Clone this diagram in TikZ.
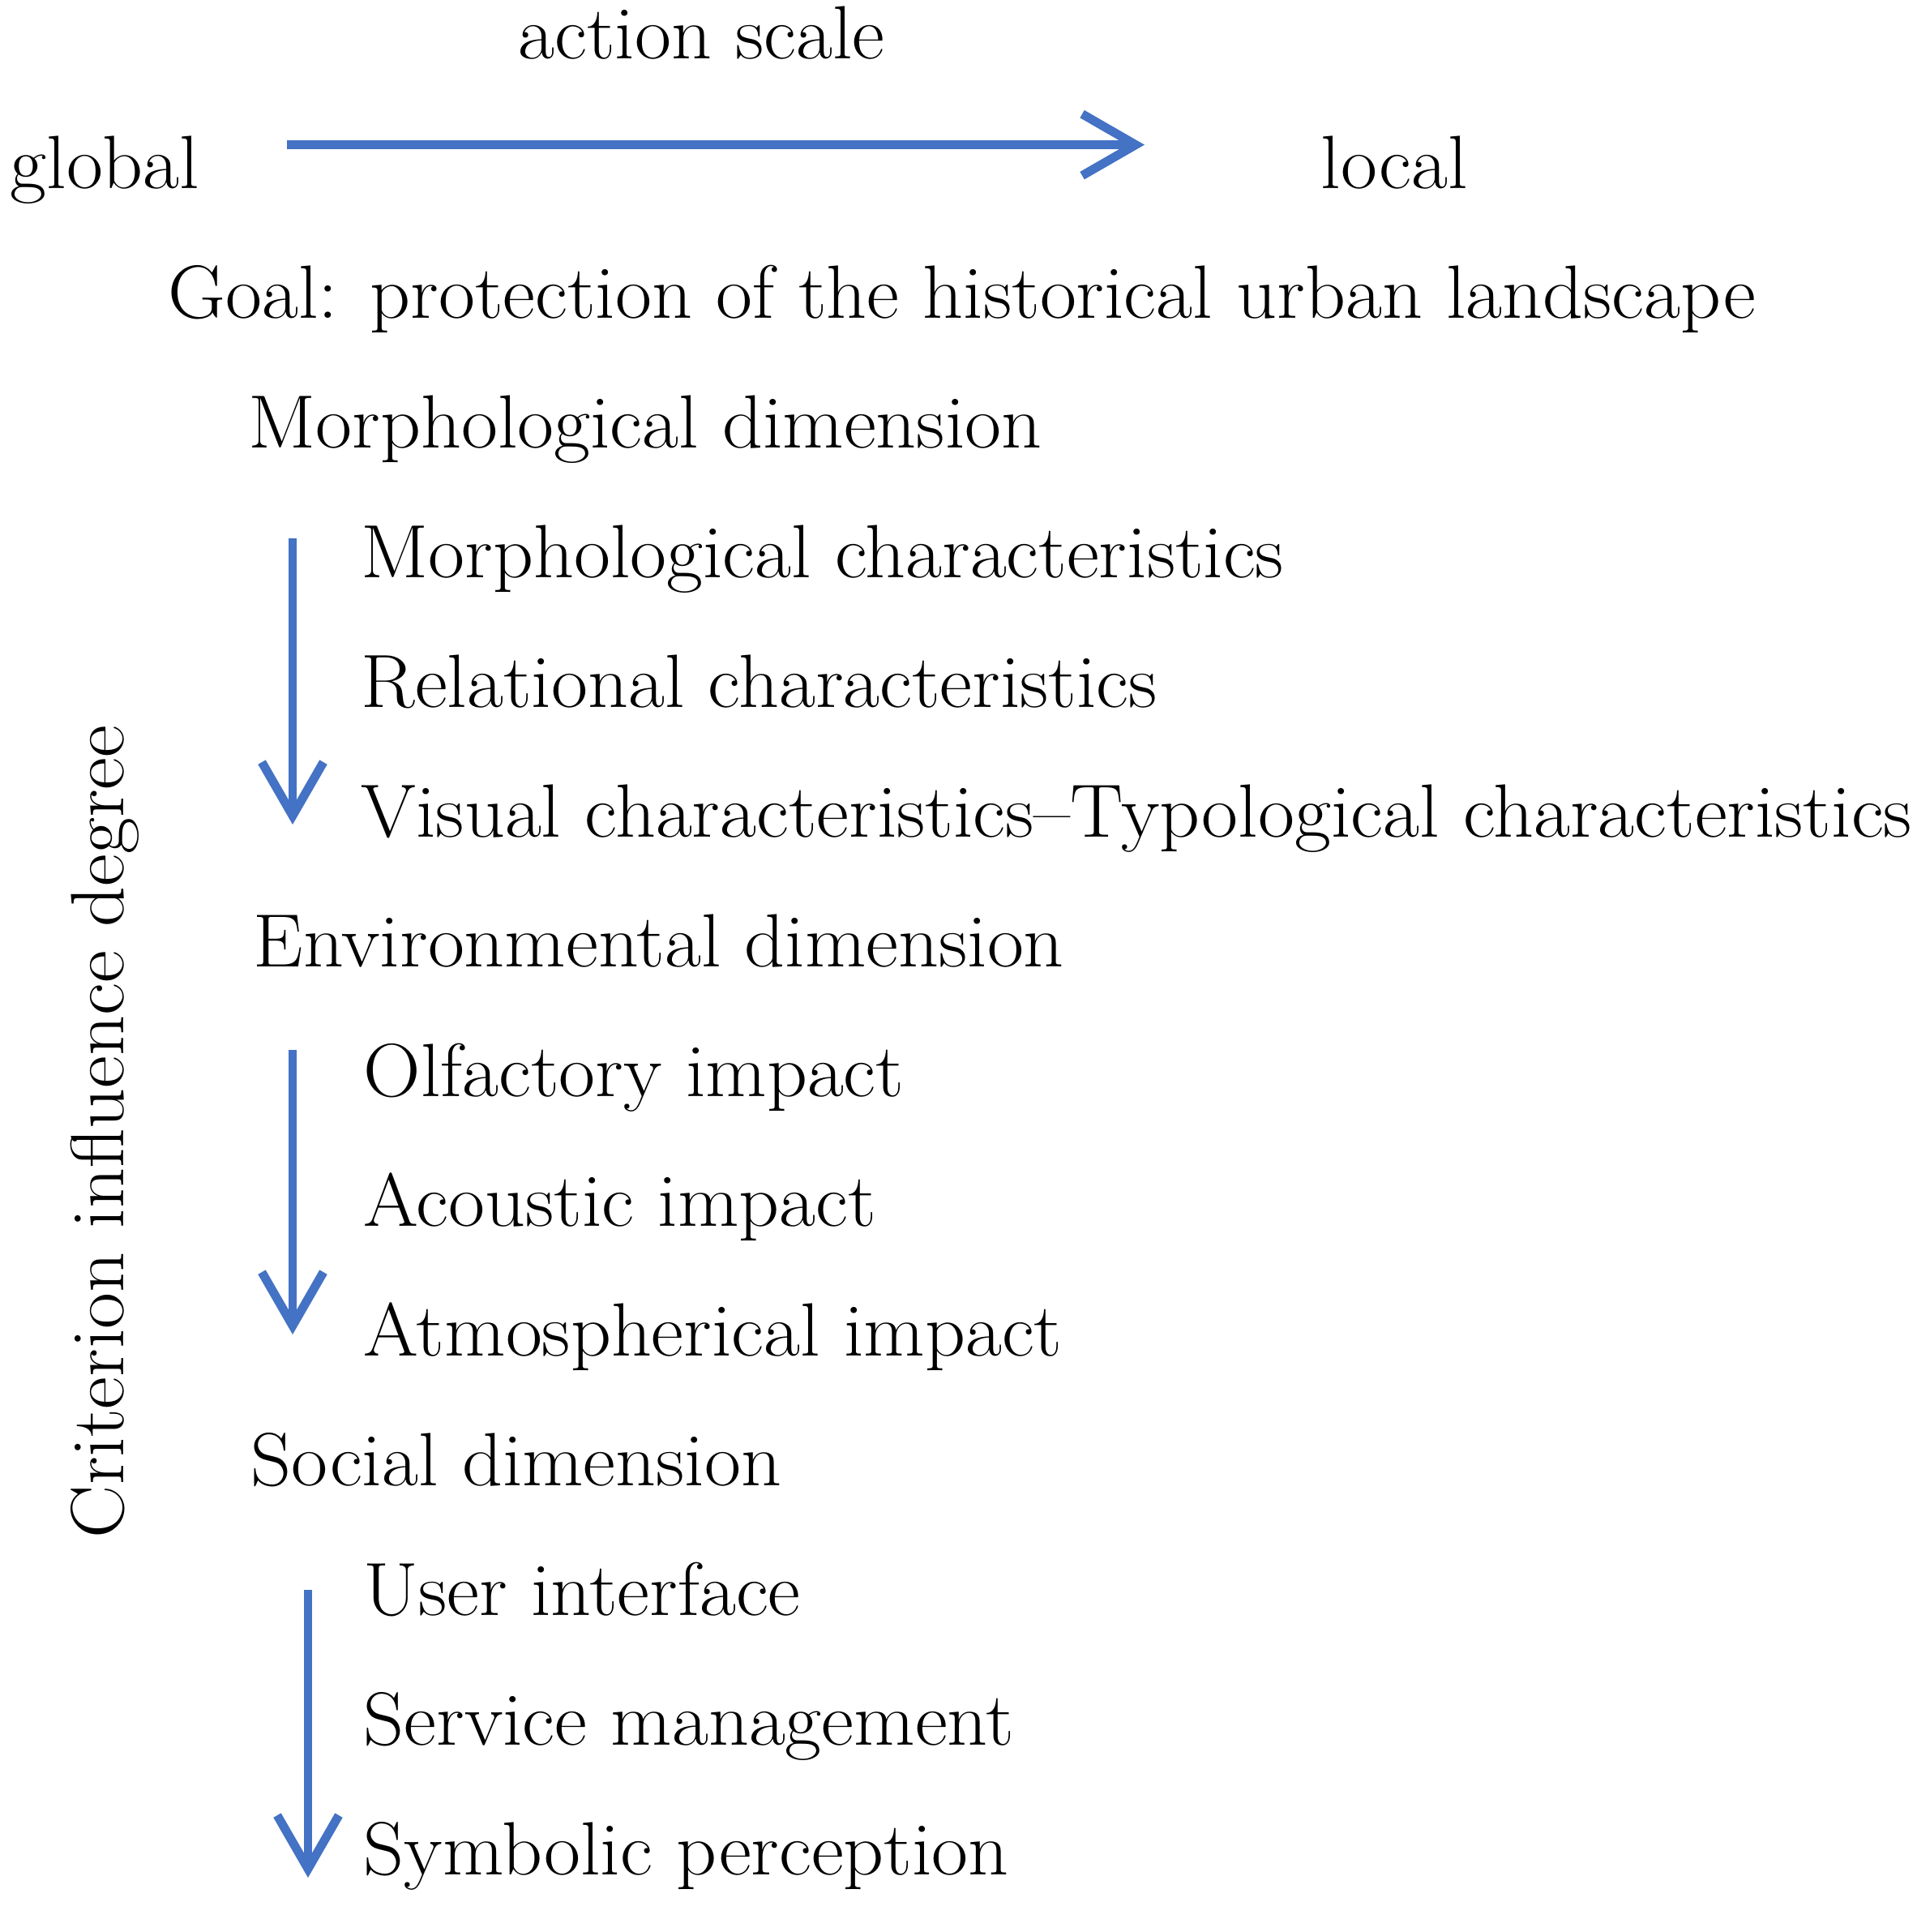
\documentclass[tikz,border=0pt]{standalone}
\usepackage{fontspec}
\setmainfont{Latin Modern Roman}[FakeStretch = 1.05]
\usetikzlibrary{arrows.meta}
\definecolor{arrowblue}{RGB}{68,114,196}

\begin{document}
\begin{tikzpicture}
\tikzstyle{TextStyle}=[anchor = base west,
                       inner sep = 0pt,
                       font = \fontsize{26.5}{31}\selectfont]
\tikzstyle{ArrowStyle}=[draw = arrowblue,
                        line width = 3.1pt,
                        -{Straight Barb[length = 0.66cm, width = 0.76cm]}]
\useasboundingbox (0,0) rectangle (23.65,-23.83);
\node[TextStyle] (t0) at (6.39,-0.72) {action scale};
\node[TextStyle] (t1) at (0.12,-2.32) {global};
\node[TextStyle] (t2) at (16.29,-2.32) {local};
\node[TextStyle] (t3) at (2.07,-3.92) {Goal: protection of the historical urban landscape};
\node[TextStyle] (t4) at (3.06,-5.52) {Morphological dimension};
\node[TextStyle] (t5) at (4.45,-7.12) {Morphological characteristics};
\node[TextStyle] (t6) at (4.45,-8.72) {Relational characteristics};
\node[TextStyle] (t7) at (4.45,-10.32) {Visual characteristics–Typological characteristics};
\node[TextStyle] (t8) at (3.12,-11.92) {Environmental dimension};
\node[TextStyle] (t9) at (4.48,-13.52) {Olfactory impact};
\node[TextStyle] (t10) at (4.48,-15.12) {Acoustic impact};
\node[TextStyle] (t11) at (4.48,-16.72) {Atmospherical impact};
\node[TextStyle] (t12) at (3.09,-18.32) {Social dimension};
\node[TextStyle] (t13) at (4.48,-19.92) {User interface};
\node[TextStyle] (t14) at (4.48,-21.52) {Service management};
\node[TextStyle] (t15) at (4.48,-23.12) {Symbolic perception};
\node[TextStyle, rotate = 90] (t16) at (1.52,-18.98) {Criterion influence degree};
\coordinate (c0) at (3.54,-1.786);
\coordinate (c1) at (14.12,-1.786);
\coordinate (c2) at (3.61,-6.64);
\coordinate (c3) at (3.61,-10.17);
\coordinate (c4) at (3.61,-12.95);
\coordinate (c5) at (3.61,-16.46);
\coordinate (c6) at (3.80,-19.61);
\coordinate (c7) at (3.80,-23.16);
\draw[ArrowStyle] (c0) -- (c1);
\draw[ArrowStyle] (c2) -- (c3);
\draw[ArrowStyle] (c4) -- (c5);
\draw[ArrowStyle] (c6) -- (c7);
\end{tikzpicture}
\end{document}
